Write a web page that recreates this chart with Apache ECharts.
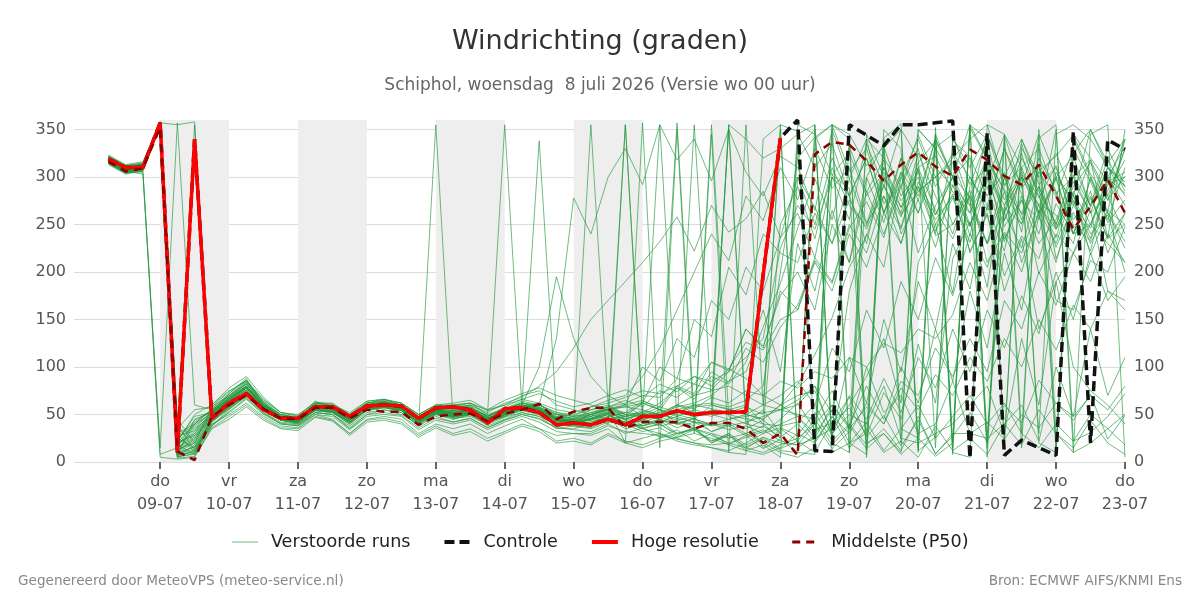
<!DOCTYPE html>
<html>
<head>
<meta charset="utf-8">
<title>Windrichting (graden)</title>
<script src="https://cdn.jsdelivr.net/npm/echarts@6/dist/echarts.min.js"></script>
<style>
    html, body { margin: 0; padding: 0; background: #fff; }
    #chart { width: 1200px; height: 600px; }
</style>
</head>
<body>
<div id="chart"></div>
<script>
// tijd in uren t.o.v. do 09-07 00:00, eerste stap wo 08-07 06:00, elke 6 uur
var startHour = -18, stepHour = 6;

// dagen op de x-as
var dayHours = [0, 24, 48, 72, 96, 120, 144, 168, 192, 216, 240, 264, 288, 312, 336];
var dayNames = ['do', 'vr', 'za', 'zo', 'ma', 'di', 'wo', 'do', 'vr', 'za', 'zo', 'ma', 'di', 'wo', 'do'];
var dayDates = ['09-07', '10-07', '11-07', '12-07', '13-07', '14-07', '15-07', '16-07', '17-07', '18-07', '19-07', '20-07', '21-07', '22-07', '23-07'];
// grijze banden (om de dag)
var shadeDays = [[0, 24], [48, 72], [96, 120], [144, 168], [192, 216], [240, 264], [288, 312]];

// Hoge resolutie (loopt tot za 18-07)
var hres = [319, 310, 310, 357, 10, 340, 46, 62, 72, 55, 46, 46, 58, 58, 48, 59, 60, 59, 46, 57,
    58, 55, 41, 56, 57, 52, 39, 41, 39, 45, 39, 48, 48, 54, 50, 52, 52, 53, 197, 341];
// Controle
var controle = [319, 310, 310, 357, 10, 340, 46, 62, 72, 55, 46, 46, 58, 58, 48, 59, 60, 59, 46, 57,
    58, 55, 41, 56, 57, 52, 39, 41, 39, 45, 39, 48, 48, 54, 50, 52, 52, 53, 197, 341,
    360, 12, 11, 355, 344, 333, 355, 355, 357, 359, 4, 346, 7, 23, 15, 7, 348, 20, 339, 329];
// Middelste (P50)
var p50 = [316, 306, 309, 352, 11, 2, 48, 60, 70, 56, 46, 45, 57, 57, 46, 55, 53, 53, 39, 48,
    50, 51, 43, 51, 55, 61, 45, 53, 57, 57, 36, 42, 42, 42, 35, 41, 41, 35, 20, 30,
    7, 324, 337, 334, 317, 296, 313, 326, 311, 301, 329, 318, 301, 292, 313, 280, 245, 269, 297, 262];

// Verstoorde runs
var run01 = [316,306,303,8,15,28,45,60,75,58, 44,42,55,52,40,55,58,52,38,50, 46,48,40,50,58,62,45,40,42,47, 35,40,45,60,52,48,55,60,40,25, 330,350,20,10,345,300,268,315,338,15, 352,318,287,262,306,322,344,303,276,301];
var run02 = [320,310,312,356,12,22,50,68,82,62, 50,47,60,58,48,60,63,60,45,55, 60,58,48,55,62,57,50,45,55,60, 45,52,50,58,62,70,85,95,142,188, 246,298,255,332,284,318,240,276,226,292, 248,305,262,335,278,312,249,233,286,318];
var run03 = [314,305,309,355,8,45,52,72,88,60, 46,44,58,60,50,62,64,60,48,58, 55,60,42,58,55,52,40,42,45,50, 38,45,40,52,48,55,50,45,15,35, 22,10,42,57,28,73,45,124,62,214, 253,184,301,242,341,355,22,31,48,72];
var run04 = [322,312,315,358,25,15,38,55,70,52, 40,38,52,50,35,50,55,50,40,355, 45,50,38,45,52,48,35,38,40,44, 40,44,50,52,58,60,56,50,45,60, 82,113,152,205,238,292,247,308,243,278, 231,296,344,288,312,247,282,218,263,232];
var run05 = [317,307,310,357,355,358,60,78,90,68, 52,50,62,60,52,64,66,62,50,60, 62,65,55,60,70,75,60,55,50,45, 42,35,30,25,20,15,10,8,340,355, 348,12,302,288,12,341,356,12,26,338, 322,28,268,251,312,214,263,222,298,283];
var run06 = [319,309,308,354,5,12,40,50,62,48, 38,36,50,45,30,45,48,45,30,40, 35,40,30,38,45,35,28,30,28,35, 20,25,30,22,18,15,12,20,30,45, 62,34,41,68,26,49,17,44,9,27, 52,21,60,41,86,62,44,71,24,49];
var run07 = [315,304,311,356,30,40,55,70,85,62, 48,45,62,62,50,62,65,62,50,60, 58,62,50,355,58,60,52,50,55,58, 50,62,55,78,66,95,84,120,105,142, 165,212,188,246,274,236,305,262,331,345, 292,340,254,300,281,226,270,318,236,350];
var run08 = [321,311,313,358,18,8,42,58,72,55, 45,42,56,54,42,56,58,55,42,52, 50,52,44,50,56,52,42,45,40,52, 45,50,48,55,60,62,58,65,80,200, 320,342,355,306,330,272,290,344,300,320, 340,355,292,310,20,10,340,300,252,276];
var run09 = [318,306,310,357,10,330,55,65,78,58, 46,44,60,56,45,58,60,58,44,55, 52,56,46,52,60,55,44,42,50,55, 48,52,44,40,35,30,25,30,20,10, 5,15,355,340,20,30,10,350,330,300, 280,20,270,300,30,345,355,340,310,290];
var run10 = [316,308,314,356,22,50,60,75,85,65, 52,48,64,58,47,62,66,60,48,58, 56,60,52,62,68,80,95,120,150,170, 190,210,232,258,222,270,242,256,285,236, 300,268,230,276,245,290,258,310,322,284, 262,300,248,276,230,255,302,270,318,285];
var run11 = [313,303,307,355,6,18,44,62,74,56, 44,40,54,52,40,54,57,54,40,50, 48,50,42,48,60,100,195,130,90,70, 60,48,55,40,46,32,38,28,34,22, 18,25,35,60,90,130,62,210,250,178, 290,310,232,280,198,240,220,265,180,170];
var run12 = [320,309,311,357,15,30,50,64,76,57, 47,44,58,57,45,60,62,58,45,55, 52,55,45,54,62,338,50,48,52,56, 60,65,55,50,45,40,38,42,48,55, 65,80,28,110,62,150,95,190,140,230, 182,270,222,310,262,350,10,20,35,50];
var run13 = [317,308,309,356,8,10,46,58,70,54, 45,43,57,54,42,57,60,57,42,53, 48,52,45,50,55,60,130,278,240,300, 330,292,355,318,340,296,350,305,280,322, 310,265,350,298,340,262,320,285,300,250, 280,230,262,305,270,236,300,318,280,330];
var run14 = [323,313,316,358,35,55,58,70,82,64, 50,47,62,59,48,62,64,60,48,58, 60,62,55,65,72,78,70,65,60,55, 50,48,52,60,70,75,80,70,60,55, 50,45,75,35,58,40,85,70,120,90, 130,95,170,140,200,165,220,190,240,210];
var run15 = [315,305,308,355,12,25,48,62,78,60, 47,44,60,56,45,60,62,58,45,55, 52,55,46,52,58,55,45,40,45,55, 20,357,15,350,30,345,10,355,60,350, 15,340,355,20,8,350,330,10,345,20, 355,5,340,15,350,30,10,345,355,5];
var run16 = [319,307,312,357,4,6,36,48,60,46, 36,35,48,44,30,44,46,42,28,38, 30,35,25,32,40,35,22,25,20,30, 22,18,25,30,35,28,20,15,10,18, 25,40,60,35,100,52,70,30,40,85, 30,25,40,60,22,100,48,140,70,110];
var run17 = [318,309,311,356,28,38,52,66,80,60, 50,46,58,58,48,60,62,60,46,56, 54,58,48,55,62,58,50,48,58,65, 70,90,120,160,200,240,212,280,254,310, 276,330,288,310,252,280,230,295,260,300, 238,320,276,302,260,298,240,250,292,300];
var run18 = [316,306,305,15,357,60,55,68,80,60, 48,45,60,56,46,58,60,56,44,54, 50,54,44,50,58,55,45,42,48,40, 355,50,45,40,355,60,55,50,45,60, 70,75,30,50,40,80,25,20,30,40, 60,80,30,130,60,190,220,250,230,210];
var run19 = [321,310,310,357,10,20,47,60,72,55, 44,42,54,52,42,56,58,54,40,50, 45,50,40,47,52,48,40,38,35,42, 40,38,42,48,55,50,45,48,52,55, 60,80,52,180,240,205,300,262,310,290, 270,230,285,210,262,170,160,212,200,248];
var run20 = [314,304,307,355,40,12,44,56,68,52, 42,40,52,50,38,52,55,52,38,48, 42,46,36,44,50,45,36,35,40,45, 48,62,100,88,150,132,205,176,240,220, 210,262,230,298,250,310,275,300,238,250, 286,210,242,220,272,260,230,300,264,340];
var run21 = [320,311,314,358,20,40,56,72,86,63, 49,46,61,59,47,61,63,60,46,57, 57,60,50,56,64,60,50,46,50,55, 58,62,55,48,42,38,355,340,320,330, 345,355,10,20,30,340,35,25,352,10, 5,355,345,310,330,282,300,262,280,240];
var run22 = [317,307,309,356,14,26,50,64,76,58, 46,43,59,55,44,59,61,57,43,53, 50,53,45,51,59,54,44,40,45,52, 44,36,40,30,34,22,28,16,24,12, 10,8,355,345,312,332,280,305,250,282, 222,260,196,238,214,272,240,278,236,262];
var run23 = [316,305,310,357,6,8,38,52,66,50, 40,38,50,48,34,48,50,48,34,44, 40,44,34,42,48,42,32,30,30,38, 32,30,28,24,20,18,20,26,32,40, 48,25,60,38,80,45,100,62,140,85, 180,120,220,160,260,210,280,240,260,200];
var run24 = [319,308,311,357,18,32,52,66,78,58, 46,44,58,56,44,58,61,57,44,54, 52,54,46,54,60,56,46,44,355,60, 50,38,44,30,36,20,28,12,18,5, 355,345,302,325,280,305,260,285,300,315, 270,345,300,340,292,310,255,280,235,250];
var run25 = [315,306,308,356,9,16,46,60,74,57, 45,42,56,54,43,57,59,56,42,52, 48,52,44,50,56,52,44,42,40,48, 52,64,58,80,72,105,96,140,122,175, 200,160,250,210,285,240,290,220,270,300, 250,290,235,275,255,300,275,235,295,305];
var run26 = [322,312,314,358,30,10,42,56,70,54, 44,42,55,53,42,55,58,55,42,51, 48,50,42,48,54,50,40,38,36,44, 40,32,36,26,34,20,30,14,26,20, 18,40,14,32,340,320,290,330,260,300, 220,262,180,235,140,190,100,75,60,40];
var run27 = [318,309,309,357,16,42,54,70,84,62, 48,46,60,58,47,60,63,60,46,56, 54,57,48,55,62,58,48,46,52,58, 62,70,68,88,82,105,98,126,118,150, 160,210,180,240,205,262,230,290,255,280, 248,305,270,320,285,250,295,262,310,280];
var run28 = [317,307,310,356,22,48,52,68,82,60, 47,44,59,57,46,59,62,58,45,55, 52,55,46,53,60,56,46,44,50,56, 58,55,50,46,42,40,45,50,60,70, 85,60,120,95,160,120,190,150,215,175, 240,205,262,225,290,250,312,270,330,290];
var run29 = [320,310,313,357,8,14,45,58,70,54, 44,41,55,53,41,55,57,54,41,51, 47,50,42,48,55,50,42,40,38,45, 42,35,40,28,36,22,30,18,26,14, 22,45,18,38,14,30,8,25,6,20, 355,15,345,30,335,10,325,350,315,340];
var run30 = [318,308,310,356,20,355,50,66,80,60, 48,45,60,57,46,59,61,57,44,54, 50,55,46,52,58,54,46,42,44,50, 40,44,38,42,36,40,34,38,30,36, 28,52,22,40,18,35,12,48,8,30, 30,42,24,50,36,62,48,70,55,80];
var run31 = [317,308,311,357,26,36,53,67,79,59, 47,45,59,57,46,59,61,58,45,54, 51,54,47,52,59,55,47,43,48,53, 355,48,52,357,45,60,350,40,55,30, 345,310,335,280,320,262,300,340,290,325, 300,270,330,290,345,300,322,268,310,295];
var run32 = [315,304,306,5,3,5,35,45,58,44, 35,33,47,43,28,42,44,40,26,36, 28,32,22,30,38,32,20,22,18,28, 20,15,22,26,30,25,18,12,8,15, 30,20,48,15,35,10,22,5,38,12, 25,8,40,18,55,30,15,44,20,8];
var run33 = [321,312,313,358,45,20,58,74,86,66, 52,49,63,61,50,64,66,62,50,60, 60,62,54,60,66,62,55,52,58,62, 68,75,72,80,90,85,95,140,120,180, 160,215,190,250,220,280,245,310,265,235, 280,320,255,300,270,245,290,315,275,330];
var run34 = [318,307,309,356,11,24,49,63,76,57, 45,43,58,55,44,58,60,56,43,53, 49,53,44,51,58,54,43,41,46,51, 46,50,355,44,48,52,355,46,40,38, 42,60,28,70,45,88,52,110,78,140, 95,160,120,175,135,200,150,220,170,195];
var run35 = [316,306,308,355,7,12,44,58,72,55, 44,41,56,53,42,56,58,55,41,51, 47,51,42,49,56,51,42,40,42,48, 45,42,48,40,46,38,42,35,44,30, 300,250,320,280,230,310,268,290,240,325, 275,230,300,255,320,285,240,298,262,225];
var run36 = [320,309,312,357,19,30,51,66,78,58, 47,44,58,56,45,59,61,57,44,54, 50,53,45,52,58,55,45,42,46,52, 48,52,62,78,70,90,82,105,160,95, 230,180,265,210,300,252,320,275,340,300, 355,320,20,340,300,325,280,350,310,290];
var run37 = [318,307,308,356,13,20,47,61,75,57, 45,43,57,55,44,57,60,56,43,52, 49,52,44,51,57,53,44,42,44,50, 42,46,50,44,38,355,48,40,36,250, 290,235,310,270,248,300,262,325,280,240, 300,265,330,282,240,305,270,246,300,332];
var run38 = [316,305,307,355,17,35,49,64,78,59, 46,44,58,56,45,58,61,57,44,53, 52,56,48,58,66,72,64,58,62,70, 76,68,82,74,90,80,98,88,70,60, 48,30,55,20,42,12,35,60,25,48, 70,40,62,30,15,40,22,50,35,18];
var run39 = [319,309,312,357,9,40,51,65,79,59, 47,45,59,56,46,59,62,58,45,55, 53,56,48,55,60,57,48,45,48,55, 60,100,85,130,110,170,150,205,180,236, 262,215,300,255,335,290,350,320,15,340, 310,345,290,325,262,300,240,285,220,262];
var run40 = [321,311,313,358,23,44,54,69,83,61, 48,46,60,58,47,60,63,59,46,56, 54,57,49,56,62,60,52,48,50,56, 52,50,58,52,60,56,52,58,50,355, 15,28,345,10,300,335,20,350,330,8, 355,340,22,330,300,15,345,320,295,340];
var run41 = [317,306,309,356,10,16,43,57,71,55, 44,42,55,53,42,56,58,55,42,52, 48,51,43,50,56,52,44,42,38,46, 42,38,45,36,42,32,40,30,38,26, 40,22,48,30,62,40,78,55,92,70, 110,85,130,100,150,118,165,140,180,160];
var run42 = [320,310,311,357,27,33,52,67,80,60, 48,45,59,57,46,60,62,58,45,55, 52,55,46,53,60,56,47,44,50,58, 65,58,75,68,82,76,95,110,130,225, 270,245,300,280,320,262,305,280,340,300, 262,320,285,250,305,280,330,295,255,310];
var run43 = [315,305,306,355,5,9,39,53,67,51, 41,39,52,50,36,50,52,49,36,46, 42,46,36,44,50,46,36,34,32,40, 30,36,26,34,22,30,18,28,14,24, 10,355,20,340,5,330,350,15,345,300, 320,280,305,260,290,245,275,230,265,250];
var run44 = [318,308,310,357,21,28,50,65,79,59, 47,44,58,56,45,58,61,57,44,54, 51,54,46,53,59,55,46,43,46,52, 48,54,50,60,56,68,62,75,70,85, 78,95,88,110,100,125,115,140,130,155, 210,170,240,200,265,230,285,250,300,270];

var runs = [run01, run02, run03, run04, run05, run06, run07, run08, run09, run10, run11, run12,
    run13, run14, run15, run16, run17, run18, run19, run20, run21, run22, run23, run24,
    run25, run26, run27, run28, run29, run30, run31, run32, run33, run34, run35, run36,
    run37, run38, run39, run40, run41, run42, run43, run44];

var fontName = 'DejaVu Sans';

function toPoints(vals) {
    var out = [];
    for (var i = 0; i < vals.length; i++) {
        out.push([startHour + i * stepHour, vals[i]]);
    }
    return out;
}

var seriesList = [];
for (var r = 0; r < runs.length; r++) {
    seriesList.push({
        name: 'Verstoorde runs',
        type: 'line',
        data: toPoints(runs[r]),
        symbol: 'none',
        z: 2,
        emphasis: { disabled: true },
        itemStyle: { color: '#23983e' },
        lineStyle: { color: '#23983e', width: 1, opacity: 0.65 }
    });
}
seriesList.push({
    name: 'Controle',
    type: 'line',
    data: toPoints(controle),
    symbol: 'none',
    z: 3,
    emphasis: { disabled: true },
    itemStyle: { color: '#111111' },
    lineStyle: { color: '#111111', width: 3.5, type: [10, 5] }
});
seriesList.push({
    name: 'Hoge resolutie',
    type: 'line',
    data: toPoints(hres),
    symbol: 'none',
    z: 4,
    emphasis: { disabled: true },
    itemStyle: { color: '#ff0000' },
    lineStyle: { color: '#ff0000', width: 3.5 }
});
seriesList.push({
    name: 'Middelste (P50)',
    type: 'line',
    data: toPoints(p50),
    symbol: 'none',
    z: 5,
    emphasis: { disabled: true },
    itemStyle: { color: '#8b0000' },
    lineStyle: { color: '#8b0000', width: 2.5, type: [8, 6] },
    markArea: {
        silent: true,
        itemStyle: { color: '#eeeeee' },
        data: shadeDays.map(function (d) { return [{ xAxis: d[0] }, { xAxis: d[1] }]; })
    }
});

var yLabel = { color: '#555', fontSize: 16, fontFamily: fontName, showMaxLabel: false };

var myChart = echarts.init(document.getElementById('chart'));
var option = {
    animation: false,
    backgroundColor: '#ffffff',
    textStyle: { fontFamily: fontName },
    title: [
        {
            text: 'Windrichting (graden)',
            left: 'center',
            top: 23,
            textStyle: { fontSize: 27, fontWeight: 'normal', color: '#333', fontFamily: fontName }
        },
        {
            text: 'Schiphol, woensdag  8 juli 2026 (Versie wo 00 uur)',
            left: 'center',
            top: 72,
            textStyle: { fontSize: 17, fontWeight: 'normal', color: '#666', fontFamily: fontName }
        },
        {
            text: 'Gegenereerd door MeteoVPS (meteo-service.nl)',
            left: 13,
            top: 569,
            textStyle: { fontSize: 13.6, fontWeight: 'normal', color: '#888', fontFamily: fontName }
        },
        {
            text: 'Bron: ECMWF AIFS/KNMI Ens',
            right: 13,
            top: 569,
            textStyle: { fontSize: 13.6, fontWeight: 'normal', color: '#888', fontFamily: fontName }
        }
    ],
    legend: {
        data: [
            { name: 'Verstoorde runs', lineStyle: { width: 1, opacity: 0.65 } },
            { name: 'Controle', lineStyle: { width: 4 } },
            { name: 'Hoge resolutie', lineStyle: { width: 4 } },
            { name: 'Middelste (P50)', lineStyle: { width: 3 } }
        ],
        left: 'center',
        top: 528,
        itemWidth: 26,
        itemHeight: 14,
        itemGap: 32,
        itemStyle: { opacity: 0 },
        textStyle: { fontSize: 17.6, color: '#222', fontFamily: fontName, padding: [0, 0, 0, 8] }
    },
    grid: { left: 74, right: 75, top: 120, bottom: 138 },
    xAxis: {
        type: 'value',
        min: -30,
        max: 336,
        axisLine: { show: false },
        splitLine: { show: false },
        axisTick: { show: true, customValues: dayHours, length: 7, lineStyle: { color: '#666', width: 2 } },
        axisLabel: {
            customValues: dayHours,
            color: '#555',
            fontSize: 16,
            lineHeight: 23,
            margin: 8,
            fontFamily: fontName,
            formatter: function (v) {
                var k = dayHours.indexOf(v);
                return k < 0 ? '' : dayNames[k] + '\n' + dayDates[k];
            }
        }
    },
    yAxis: [
        {
            type: 'value',
            min: 0,
            max: 360,
            interval: 50,
            position: 'left',
            axisLine: { show: false },
            axisTick: { show: false },
            axisLabel: Object.assign({ margin: 8 }, yLabel),
            splitLine: {
                lineStyle: {
                    color: ['#dcdcdc', '#dcdcdc', '#dcdcdc', '#dcdcdc', '#dcdcdc', '#dcdcdc', '#dcdcdc', '#dcdcdc', 'rgba(0,0,0,0)'],
                    width: 1
                }
            }
        },
        {
            type: 'value',
            min: 0,
            max: 360,
            interval: 50,
            position: 'right',
            axisLine: { show: false },
            axisTick: { show: false },
            axisLabel: Object.assign({ margin: 9 }, yLabel),
            splitLine: { show: false }
        }
    ],
    series: seriesList
};
myChart.setOption(option);
</script>
</body>
</html>
